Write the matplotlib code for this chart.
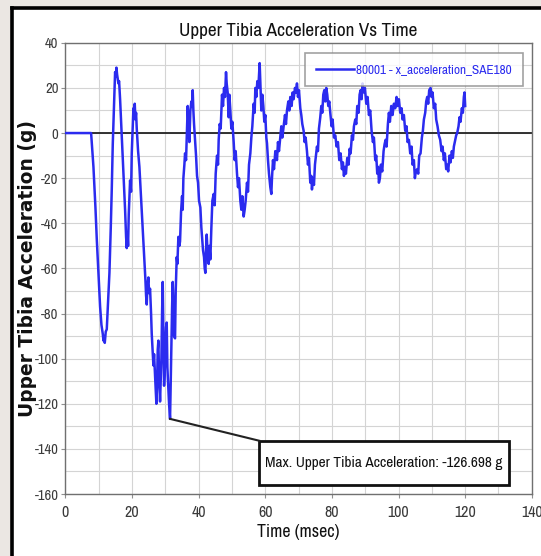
import matplotlib
matplotlib.use("Agg")
import matplotlib.pyplot as plt
from matplotlib import font_manager as fm
from matplotlib.lines import Line2D
from matplotlib.patches import Rectangle
from matplotlib.ticker import MultipleLocator

plt.rcParams["axes.unicode_minus"] = False

# sensor trace (time in msec, acceleration in g)
time_ms = [
    0, 7.7, 8.4, 9.0, 9.4, 10.0, 10.4, 10.8, 11.2, 11.4, 11.6, 11.8, 12.1, 12.4, 12.8,
    13.2, 13.6, 13.9, 14.2, 14.4, 14.7, 14.9, 15.1, 15.3, 15.5, 15.7, 15.9, 16.1, 16.4,
    16.8, 17.2, 17.6, 17.9, 18.2, 18.4, 18.6, 18.8, 19.0, 19.4, 19.7, 19.9, 20.2, 20.4,
    20.6, 20.8, 21.0, 21.2, 21.4, 21.8, 22.2, 22.6, 22.9, 23.3, 23.6, 24.0, 24.2, 24.4,
    24.6, 24.9, 25.1, 25.4, 25.7, 25.9, 26.2, 26.4, 26.6, 26.9, 27.1, 27.3, 27.5, 27.7,
    27.9, 28.1, 28.4, 28.6, 28.8, 29.0, 29.2, 29.4, 29.6, 29.8, 30.0, 30.2, 30.4, 30.6,
    30.9, 31.1, 31.4, 31.6, 31.8, 32.0, 32.2, 32.4, 32.6, 32.9, 33.1, 33.4, 33.6, 33.9,
    34.2, 34.4, 34.7, 35.0, 35.2, 35.4, 35.7, 35.9, 36.2, 36.5, 36.7, 36.9, 37.2, 37.5,
    37.8, 38.0, 38.2, 38.4, 38.6, 38.9, 39.2, 39.5, 39.8, 40.1, 40.5, 40.8, 41.0, 41.3,
    41.6, 41.8, 42.0, 42.2, 42.4, 42.7, 43.0, 43.2, 43.5, 43.8, 44.1, 44.5, 44.8, 45.1,
    45.5, 45.8, 46.0, 46.3, 46.6, 47.0, 47.3, 47.6, 47.9, 48.2, 48.4, 48.7, 49.0, 49.2,
    49.5, 49.8, 50.1, 50.5, 50.8, 51.1, 51.5, 51.8, 52.1, 52.5, 52.8, 53.1, 53.5, 53.8,
    54.1, 54.5, 54.8, 55.1, 55.5, 55.8, 56.1, 56.5, 56.8, 57.0, 57.3, 57.6, 57.9, 58.1,
    58.3, 58.5, 58.8, 59.1, 59.4, 59.7, 60.0, 60.3, 60.5, 60.8, 61.1, 61.5, 61.8, 62.0,
    62.3, 62.6, 63.0, 63.5, 63.8, 64.1, 64.5, 64.8, 65.1, 65.5, 65.9, 66.2, 66.5, 66.9,
    67.2, 67.5, 67.9, 68.2, 68.5, 68.9, 69.2, 69.5, 69.8, 70.1, 70.5, 70.8, 71.1, 71.5,
    71.8, 72.1, 72.5, 72.8, 73.1, 73.5, 73.8, 74.0, 74.3, 74.6, 74.9, 75.2, 75.5, 75.8,
    76.1, 76.5, 76.8, 77.1, 77.4, 77.7, 78.0, 78.3, 78.6, 78.9, 79.2, 79.5, 79.9, 80.2,
    80.6, 81.0, 81.4, 81.8, 82.2, 82.6, 83.0, 83.3, 83.6, 83.9, 84.2, 84.6, 85.0, 85.3,
    85.6, 86.0, 86.3, 86.6, 87.0, 87.3, 87.6, 88.0, 88.3, 88.6, 88.9, 89.2, 89.6, 89.9,
    90.3, 90.7, 91.1, 91.5, 91.9, 92.3, 92.6, 93.0, 93.3, 93.6, 93.9, 94.1, 94.4, 94.7,
    95.1, 95.5, 95.8, 96.1, 96.4, 96.8, 97.1, 97.4, 97.8, 98.2, 98.6, 99.0, 99.4, 99.7,
    100.1, 100.5, 100.9, 101.2, 101.6, 102.0, 102.4, 102.7, 103.1, 103.5, 103.9, 104.2,
    104.6, 104.9, 105.2, 105.6, 105.9, 106.2, 106.6, 107.0, 107.3, 107.6, 108.0, 108.3,
    108.6, 108.9, 109.2, 109.6, 109.9, 110.2, 110.6, 111.0, 111.3, 111.7, 112.1, 112.5,
    112.9, 113.2, 113.6, 113.9, 114.3, 114.6, 114.9, 115.3, 115.6, 116.0, 116.3, 116.6,
    117.0, 117.3, 117.6, 118.0, 118.3, 118.6, 119.0, 119.3, 119.6, 119.8, 120.0,
]
accel_g = [
    0, 0, -15, -33, -47, -65, -77, -85, -89, -92, -90, -93, -88, -87, -75,
    -62, -42, -25, -5, 4, 18, 27, 25, 29, 26, 24, 22, 23, 15,
    2, -10, -24, -34, -46, -51, -44, -50, -36, -21, -26, -9, 3, 11,
    8, 13, 6, 9, 2, -8, -15, -26, -35, -45, -53, -65, -72, -76,
    -68, -64, -71, -69, -80, -89, -97, -103, -98, -108, -114, -120, -112, -96,
    -92, -108, -119, -110, -100, -80, -66, -88, -112, -106, -95, -86, -84, -104,
    -114, -120, -126.698, -110, -92, -78, -66, -76, -90, -91, -70, -55, -58, -46,
    -50, -48, -35, -28, -34, -20, -14, -9, -12, 3, 12, 5, -4, 10,
    14, 12, 19, 10, 4, -3, -10, -19, -22, -30, -33, -42, -46, -52,
    -55, -60, -62, -52, -45, -54, -58, -50, -56, -42, -30, -27, -32, -18,
    -10, -14, -3, 4, 2, 17, 12, 20, 16, 27, 22, 18, 7, 17,
    10, 2, 5, -4, -12, -8, -18, -24, -20, -30, -34, -28, -37, -34,
    -30, -22, -26, -14, -9, -2, 3, 13, 9, 20, 16, 23, 20, 26,
    31, 22, 10, 17, 12, 5, 8, -2, -4.5, -12, -18, -24, -27, -20,
    -12, -16, -8, -12, -4, -8, -2, 3, -2, 3, 8, 4, 10, 14,
    10, 16, 12, 18, 15, 20, 18, 22, 16, 19, 11, 8, 4, 1,
    -4, -2, -8, -14, -11, -22, -19, -25, -20, -23, -14, -10, -6, -8,
    2, 7, 12, 9, 17, 19, 14, 20, 17, 12, 14, 9, 3, 6,
    -2, -1, -6, -4, -12, -9, -16, -13, -19, -15, -18, -11, -14, -7,
    -9, -1, -3, 3, 6, 4, 12, 9, 17, 19, 15, 22, 18, 20,
    13, 16, 8, 10, 1, -4, -2, -12, -10, -18, -15, -22, -20, -14,
    -17, -8, -5, -3, -6, 4, 9, 5, 12, 8, 13, 11, 16, 12,
    15, 9, 11, 6, 8, 1, 3, -4, -3, -9, -6, -14,
    -12, -20, -17, -16, -18, -10, -9, -2, 1, 6, 9, 14,
    16, 13, 19, 20, 16, 18, 11, 13, 6, 3, -1, -3,
    -8, -6, -12, -9, -16, -14, -17, -10, -13, -8, -11, -6,
    -3, -1, 0, 3, 7, 5, 11, 9, 16, 18, 12,
]

series_label = "80001 - x_acceleration_SAE180"
peak_label = "Max. Upper Tibia Acceleration: -126.698 g"
peak_t = 31.4
peak_g = -126.698

# pick a condensed face if one is installed, else plain Liberation Sans
names = {f.name for f in fm.fontManager.ttflist}
narrow_faces = sorted(n for n in names if "Narrow" in n or "Condensed" in n)
if "Liberation Sans Narrow" in narrow_faces:
    narrow_faces.insert(0, "Liberation Sans Narrow")
if narrow_faces:
    narrow = {"family": [narrow_faces[0], "DejaVu Sans"]}
else:
    narrow = {"family": ["Liberation Sans", "DejaVu Sans"]}

blue = "#2b2bef"

fig = plt.figure(figsize=(5.41, 5.56), dpi=100)
fig.patch.set_facecolor("#ebe7e3")

# white page with black frame on the left and top
fig.patches.append(Rectangle((0.022, 0), 0.978, 0.9856, transform=fig.transFigure,
                             facecolor="white", edgecolor="none", zorder=-10))
fig.lines.append(Line2D([0.022, 0.022], [0, 0.9856], transform=fig.transFigure,
                        color="black", lw=2.6, zorder=-5))
fig.lines.append(Line2D([0.022, 1], [0.9856, 0.9856], transform=fig.transFigure,
                        color="black", lw=2.6, zorder=-5))

ax = fig.add_axes([0.121, 0.1115, 0.862, 0.8115])
ax.set_facecolor("white")
ax.xaxis.set_major_locator(MultipleLocator(20))
ax.xaxis.set_minor_locator(MultipleLocator(10))
ax.yaxis.set_major_locator(MultipleLocator(20))
ax.yaxis.set_minor_locator(MultipleLocator(10))
ax.grid(True, which="both", color="#d4d4d4", lw=0.8)
ax.set_axisbelow(True)
for s in ax.spines.values():
    s.set_color("#707070")
    s.set_linewidth(1.0)
ax.tick_params(which="major", length=3, color="#909090", labelcolor="#3a3a3a")
ax.tick_params(axis="x", pad=5)
ax.tick_params(axis="y", pad=2)
ax.tick_params(which="minor", length=0)
ax.set_xlim(0, 140)
ax.set_ylim(-160, 40)
for lab in ax.get_xticklabels():
    lab.set(fontsize=11.5, **narrow)
for lab in ax.get_yticklabels():
    lab.set(fontsize=10.5, **narrow)

ax.axhline(0, color="#222222", lw=1.3, zorder=2)

ax.plot(time_ms, accel_g, color=blue, lw=1.8, label=series_label, zorder=3)

leg = ax.legend(loc="upper right", bbox_to_anchor=(0.995, 0.992), frameon=True,
                fancybox=False, shadow=False, handlelength=3.0, handletextpad=0.2,
                borderpad=0.9, prop={"size": 9, "family": narrow["family"]})
leg.get_frame().set_edgecolor("#8a8a8a")
leg.get_frame().set_linewidth(1.2)
for t in leg.get_texts():
    t.set_color(blue)

# callout for the peak value
box_x0, box_x1 = 58.2, 133.1
box_y0, box_y1 = -156.0, -136.4
ax.add_patch(Rectangle((box_x0, box_y0), box_x1 - box_x0, box_y1 - box_y0,
                       facecolor="white", edgecolor="#111111", lw=2.0, zorder=4))
ax.plot([peak_t, box_x0], [peak_g, box_y1], color="#222222", lw=1.5, zorder=4)
peak_txt = ax.text((box_x0 + box_x1) / 2, (box_y0 + box_y1) / 2, peak_label,
                   ha="center", va="center", fontsize=10, fontweight="bold",
                   color="#111111", zorder=5, **narrow)

title = ax.set_title("Upper Tibia Acceleration Vs Time", fontsize=13,
                     color="#111111", pad=5, **narrow)
xlab = ax.set_xlabel("Time (msec)", fontsize=11.5, color="#111111", labelpad=3, **narrow)
ylab = ax.set_ylabel("Upper Tibia Acceleration (g)", family="DejaVu Sans",
                     fontweight="bold", fontsize=13, color="#111111")
ax.yaxis.set_label_coords(-0.062, 0.5)


def fit_width(txt, target_px, renderer):
    # scale a label so its printed width matches the reference
    w = txt.get_window_extent(renderer).width
    txt.set_fontsize(txt.get_fontsize() * target_px / w)


fig.canvas.draw()
r = fig.canvas.get_renderer()
fit_width(title, 240, r)
fit_width(peak_txt, 238, r)
fit_width(xlab, 82, r)
for t in leg.get_texts():
    fit_width(t, 156, r)
ylab_h = ylab.get_window_extent(r).height
ylab.set_fontsize(ylab.get_fontsize() * 295 / ylab_h)

fig.savefig("out.png", dpi=100, facecolor=fig.get_facecolor())
